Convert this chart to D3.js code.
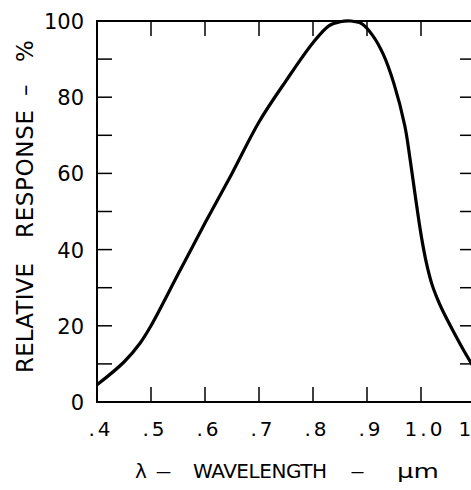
<!DOCTYPE html>
<html lang="en">

<head>
  <meta charset="UTF-8">
  <title>Relative response</title>
  <script src="https://d3js.org/d3.v7.min.js"></script>
  <style>
    body { margin: 0; background: #fff; }
    text { font-family: "DejaVu Sans", sans-serif; fill: #000; }
  </style>
</head>

<body>
  <div class="canvas"></div>
  <script>
    // wavelength (um) vs relative response (%)
    const wavelength = [.40, .45, .48, .50, .55, .60, .65, .70, .75, .80, .83, .85, .87, .89, .91, .93, .95, .97, .98, .99, 1.00, 1.01, 1.02, 1.03, 1.04, 1.06, 1.08, 1.10];
    const response = [4.5, 10.5, 15.5, 20, 33.5, 47, 60, 73.5, 84.3, 94.3, 98.8, 99.8, 100, 99.3, 96.3, 91.3, 83.5, 72.5, 63.5, 53.5, 44, 36.5, 31, 27.2, 24, 18.5, 13.3, 8.5];
    const xTicks = [.4, .5, .6, .7, .8, .9, 1.0, 1.1];
    const xTickLabels = ['.4', '.5', '.6', '.7', '.8', '.9', '1.0', '1.1'];
    const yTicks = [0, 10, 20, 30, 40, 50, 60, 70, 80, 90, 100];
    const yTickLabels = ['0', '', '20', '', '40', '', '60', '', '80', '', '100'];

    const width = 471;
    const height = 490;
    const [ml, mt, pr, pb] = [97, 21, 475, 402];
    const tickLen = 15;

    const svg = d3.select('.canvas')
      .append('svg')
      .attr('width', width)
      .attr('height', height)

    const x = d3.scaleLinear().domain([0.4, 1.1]).range([ml, pr])
    const y = d3.scaleLinear().domain([0, 100]).range([pb, mt])

    // ticks pointing inward on all four sides
    const g = svg.append('g').attr('stroke', '#000').attr('stroke-width', 1.5)
    xTicks.forEach(t => {
      g.append('line').attr('x1', x(t)).attr('x2', x(t)).attr('y1', pb).attr('y2', pb - tickLen)
      g.append('line').attr('x1', x(t)).attr('x2', x(t)).attr('y1', mt).attr('y2', mt + tickLen)
    })
    yTicks.forEach(t => {
      g.append('line').attr('x1', ml).attr('x2', ml + tickLen).attr('y1', y(t)).attr('y2', y(t))
      g.append('line').attr('x1', pr).attr('x2', pr - tickLen).attr('y1', y(t)).attr('y2', y(t))
    })

    // frame
    svg.append('rect')
      .attr('x', ml).attr('y', mt)
      .attr('width', pr - ml).attr('height', pb - mt)
      .attr('fill', 'none').attr('stroke', '#000').attr('stroke-width', 2)

    const line = d3.line()
      .x((d, i) => x(wavelength[i]))
      .y(d => y(d))
      .curve(d3.curveCatmullRom.alpha(0.5))

    svg.append('path')
      .attr('d', line(response))
      .attr('fill', 'none')
      .attr('stroke', '#000')
      .attr('stroke-width', 3.2)

    // tick labels (original digits are widely spaced)
    svg.selectAll('.xl').data(xTicks).enter()
      .append('text')
      .attr('x', d => x(d) + 4)
      .attr('y', 436)
      .attr('text-anchor', 'middle')
      .attr('font-size', 20)
      .attr('letter-spacing', 3)
      .text((d, i) => xTickLabels[i])

    svg.selectAll('.yl').data(yTicks).enter()
      .append('text')
      .attr('x', 84)
      .attr('y', d => y(d) + 8)
      .attr('text-anchor', 'end')
      .attr('font-size', 21)
      .text((d, i) => yTickLabels[i])

    // axis titles, pieces placed to match the wide spacing of the original
    const xt = svg.append('text').attr('y', 478).attr('font-size', 20)
    xt.append('tspan').attr('x', 135).text('λ')
    xt.append('tspan').attr('x', 155).attr('textLength', 17).attr('lengthAdjust', 'spacingAndGlyphs').text('–')
    xt.append('tspan').attr('x', 193).attr('textLength', 134).text('WAVELENGTH')
    xt.append('tspan').attr('x', 350).attr('textLength', 15).attr('lengthAdjust', 'spacingAndGlyphs').text('–')
    xt.append('tspan').attr('x', 397).attr('textLength', 42).attr('lengthAdjust', 'spacingAndGlyphs').text('μm')

    const yt = svg.append('text')
      .attr('transform', 'translate(33, 0) rotate(-90)')
      .attr('font-size', 23)
    yt.append('tspan').attr('x', -373).attr('textLength', 110).text('RELATIVE')
    yt.append('tspan').attr('x', -238).attr('textLength', 128).text('RESPONSE')
    yt.append('tspan').attr('x', -96).text('–')
    yt.append('tspan').attr('x', -62).text('%')
  </script>

</body>

</html>
